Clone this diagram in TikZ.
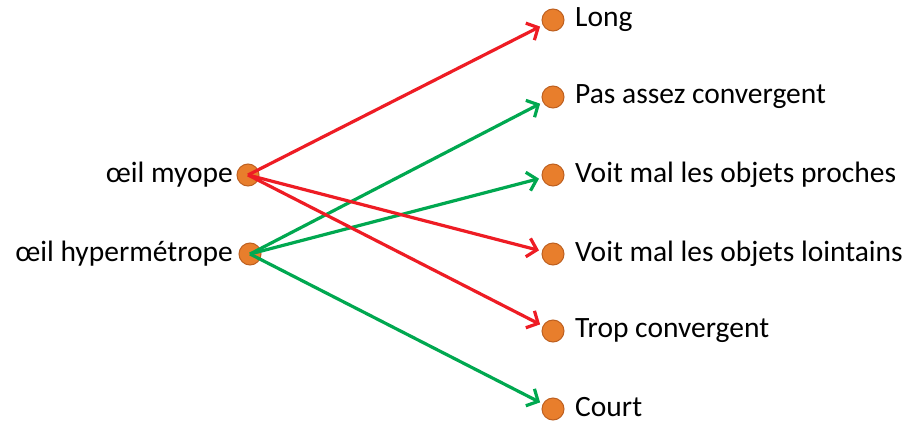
\documentclass[tikz,border=0pt]{standalone}
\usepackage{fontspec}
\setmainfont{Carlito}
\usetikzlibrary{arrows.meta}
\definecolor{dotfill}{RGB}{232,126,44}
\definecolor{dotedge}{RGB}{190,96,32}
\definecolor{linkred}{RGB}{238,28,36}
\definecolor{linkgreen}{RGB}{0,168,80}
\tikzset{
  dot/.style={circle, minimum size=22pt, inner sep=0pt, fill=dotfill, draw=dotedge, line width=1pt},
  lbl/.style={font=\fontsize{29.5}{32}\selectfont, inner sep=0pt, text=black},
  link/.style={line width=3.2pt, shorten >=3pt, -{Straight Barb[length=9pt,width=19pt,line width=3.2pt]}},
}
\begin{document}
\begin{tikzpicture}[x=1pt,y=-1pt]
\useasboundingbox (0,0) rectangle (907,423);
\fill[white] (0,0) rectangle (907,423);

% left column
\node[dot] (my) at (248,175) {};
\node[dot] (hy) at (250,254) {};
\node[lbl, anchor=east] (tmy) at (233,175) {œil myope};
\node[lbl, anchor=east] (thy) at (233,254) {œil hypermétrope};

% right column
\node[dot] (r1) at (553,20) {};
\node[dot] (r2) at (553,97) {};
\node[dot] (r3) at (553,175) {};
\node[dot] (r4) at (553,254) {};
\node[dot] (r5) at (553,331) {};
\node[dot] (r6) at (553,409) {};
\node[lbl, anchor=west] (t1) at (575,20) {Long};
\node[lbl, anchor=west] (t2) at (575,97) {Pas assez convergent};
\node[lbl, anchor=west] (t3) at (575,175) {Voit mal les objets proches};
\node[lbl, anchor=west] (t4) at (575,254) {Voit mal les objets lointains};
\node[lbl, anchor=west] (t5) at (575,331) {Trop convergent};
\node[lbl, anchor=west] (t6) at (575,407.5) {Court};

% links
\draw[link, linkgreen] (hy.center) -- (r2);
\draw[link, linkgreen] (hy.center) -- (r3);
\draw[link, linkgreen] (hy.center) -- (r6);
\draw[link, linkred] (my.center) -- (r1);
\draw[link, linkred] (my.center) -- (r4);
\draw[link, linkred] (my.center) -- (r5);
\end{tikzpicture}
\end{document}
